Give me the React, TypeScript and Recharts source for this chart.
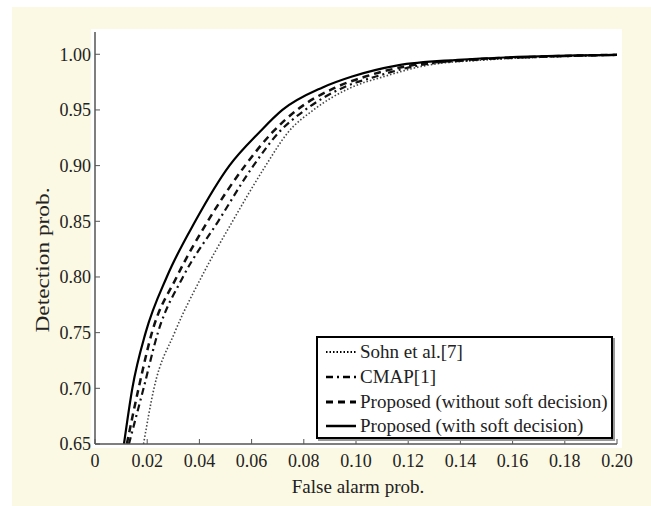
import React from "react";
import { LineChart, Line, XAxis, YAxis } from "recharts";

// Detection probability levels (shared by all curves)
const detectionLevels = [0.65, 0.7, 0.75, 0.8, 0.85, 0.9, 0.93, 0.95, 0.97, 0.98, 0.99, 0.995, 0.998, 0.9995];

// False alarm probability at each detection level, per method
const sohnFa = [0.0186, 0.0226, 0.0305, 0.0408, 0.0527, 0.0654, 0.074, 0.0837, 0.098, 0.1108, 0.127, 0.15, 0.18, 0.2];
const cmapFa = [0.013, 0.0186, 0.0241, 0.0337, 0.0472, 0.0607, 0.0705, 0.0805, 0.095, 0.1076, 0.124, 0.146, 0.176, 0.2];
const proposedNoSoftFa = [0.0122, 0.0167, 0.0218, 0.0313, 0.0432, 0.0575, 0.068, 0.0774, 0.092, 0.1036, 0.121, 0.143, 0.172, 0.2];
const proposedSoftFa = [0.0111, 0.0143, 0.0194, 0.0275, 0.0384, 0.0515, 0.063, 0.0718, 0.087, 0.0985, 0.116, 0.139, 0.167, 0.2];

const seriesNames = [
  "Sohn et al.[7]",
  "CMAP[1]",
  "Proposed (without soft decision)",
  "Proposed (with soft decision)",
];

const xTicks = [0, 0.02, 0.04, 0.06, 0.08, 0.1, 0.12, 0.14, 0.16, 0.18, 0.2];
const yTicks = [0.65, 0.7, 0.75, 0.8, 0.85, 0.9, 0.95, 1.0];

const toPoints = (fa: number[]) => fa.map((x, i) => ({ x, y: detectionLevels[i] }));

const series = [
  { name: seriesNames[0], data: toPoints(sohnFa), stroke: "#444", width: 1.6, dash: "1.5 2" },
  { name: seriesNames[1], data: toPoints(cmapFa), stroke: "#111", width: 2.2, dash: "7 4 2 4" },
  { name: seriesNames[2], data: toPoints(proposedNoSoftFa), stroke: "#111", width: 2.5, dash: "7 5" },
  { name: seriesNames[3], data: toPoints(proposedSoftFa), stroke: "#000", width: 2.2, dash: undefined as string | undefined },
];

const FONT = "'Liberation Serif', 'Times New Roman', serif";
const AXIS_COLOR = "#555";

const YLabel = (props: any) => {
  const vb = props.viewBox || {};
  const cx = 42;
  const cy = vb.y + vb.height / 2 + 22;
  return (
    <text
      x={cx}
      y={cy}
      transform={`rotate(-90 ${cx} ${cy})`}
      textAnchor="middle"
      dominantBaseline="central"
      fontFamily={FONT}
      fontSize={19}
      fill="#222"
      textLength={145}
      lengthAdjust="spacingAndGlyphs"
    >
      Detection prob.
    </text>
  );
};

const XLabel = (props: any) => {
  const vb = props.viewBox || {};
  const cx = vb.x + vb.width / 2 + 2;
  return (
    <text x={cx} y={493} textAnchor="middle" fontFamily={FONT} fontSize={19} fill="#222">
      False alarm prob.
    </text>
  );
};

export default function App() {
  const tickStyle = { fontFamily: FONT, fontSize: 18, fill: "#222" };
  return (
    <div style={{ position: "absolute", left: 0, top: 0, width: 651, height: 506, background: "#fff", overflow: "hidden" }}>
      <div style={{ position: "absolute", left: 12, top: 7, right: 0, bottom: 0, background: "#fbf9e3" }} />
      <div style={{ position: "absolute", left: 91, top: 29, width: 531, height: 419, background: "#fff" }} />
      <div style={{ position: "absolute", left: 0, top: 0 }}>
        <LineChart width={651} height={506} margin={{ top: 32, right: 34, left: 45, bottom: 32 }}>
          <XAxis
            xAxisId="b"
            dataKey="x"
            type="number"
            domain={[0, 0.2]}
            ticks={xTicks}
            allowDataOverflow
            orientation="bottom"
            height={30}
            tickSize={-5}
            tickMargin={15}
            tick={tickStyle}
            tickFormatter={(v: number) => (v === 0 ? "0" : v.toFixed(2))}
            axisLine={{ stroke: AXIS_COLOR, strokeWidth: 1.5 }}
            tickLine={{ stroke: AXIS_COLOR }}
            label={<XLabel />}
            interval={0}
          />
          <XAxis
            xAxisId="t"
            dataKey="x"
            type="number"
            domain={[0, 0.2]}
            ticks={xTicks}
            allowDataOverflow
            orientation="top"
            height={0}
            tickSize={-5}
            tick={false as any}
            tickFormatter={() => ""}
            axisLine={{ stroke: AXIS_COLOR, strokeWidth: 1.5 }}
            tickLine={{ stroke: AXIS_COLOR }}
            interval={0}
          />
          <YAxis
            yAxisId="l"
            dataKey="y"
            type="number"
            domain={[0.65, 1.02]}
            ticks={yTicks}
            allowDataOverflow
            orientation="left"
            width={50}
            tickSize={-5}
            tickMargin={9}
            tick={tickStyle}
            tickFormatter={(v: number) => v.toFixed(2)}
            axisLine={{ stroke: AXIS_COLOR, strokeWidth: 1.5 }}
            tickLine={{ stroke: AXIS_COLOR }}
            label={<YLabel />}
            interval={0}
          />
          <YAxis
            yAxisId="r"
            dataKey="y"
            type="number"
            domain={[0.65, 1.02]}
            ticks={yTicks}
            allowDataOverflow
            orientation="right"
            width={0}
            tickSize={-5}
            tick={false as any}
            tickFormatter={() => ""}
            axisLine={{ stroke: AXIS_COLOR, strokeWidth: 1.5 }}
            tickLine={{ stroke: AXIS_COLOR }}
            interval={0}
          />
          {series.map((s) => (
            <Line
              key={s.name}
              xAxisId="b"
              yAxisId="l"
              data={s.data}
              dataKey="y"
              name={s.name}
              type="monotone"
              stroke={s.stroke}
              strokeWidth={s.width}
              strokeDasharray={s.dash}
              dot={false}
              activeDot={false}
              isAnimationActive={false}
            />
          ))}
        </LineChart>
      </div>
      <div
        style={{
          position: "absolute",
          left: 316,
          top: 336,
          width: 297,
          height: 103,
          boxSizing: "border-box",
          border: "2px solid #000",
          boxShadow: "2px 2px 0 #999",
          background: "#fff",
          paddingTop: 2,
          fontFamily: FONT,
          fontSize: 19,
          color: "#222",
        }}
      >
        {series.map((s) => (
          <div key={s.name} style={{ display: "flex", alignItems: "center", height: 24.7, whiteSpace: "nowrap" }}>
            <svg width={30} height={10} style={{ marginLeft: 8, marginRight: 4, flex: "none" }}>
              <line x1={0} y1={5} x2={30} y2={5} stroke="#000" strokeWidth={s.width + 0.3} strokeDasharray={s.dash} />
            </svg>
            <span>{s.name}</span>
          </div>
        ))}
      </div>
    </div>
  );
}
